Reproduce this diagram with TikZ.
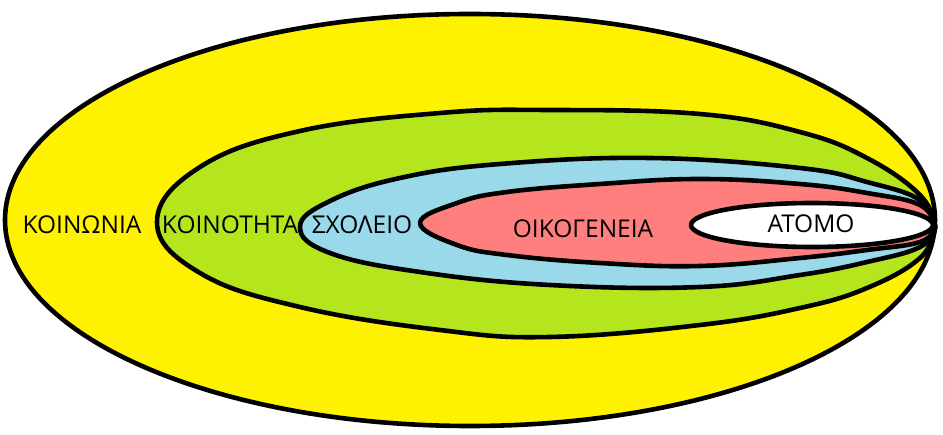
\documentclass[tikz,border=0pt]{standalone}
\usepackage{fontspec}
\setmainfont{Open Sans}
\definecolor{cYellow}{RGB}{255,242,0}
\definecolor{cGreen}{RGB}{181,230,29}
\definecolor{cBlue}{RGB}{153,217,234}
\definecolor{cRed}{RGB}{255,127,127}
\begin{document}
\begin{tikzpicture}[x=1pt,y=-1pt,
  zone/.style={draw=black,line width=4.6pt,line join=round},
  lbl/.style={anchor=base,inner sep=0pt,font=\fontsize{24.5}{28}\selectfont,text=black}]
\useasboundingbox (0,0) rectangle (943,435);
% outer
\draw[zone,fill=cYellow] (470,220) ellipse [x radius=465,y radius=206];
% community
\draw[zone,fill=cGreen] plot[smooth,tension=0.7] coordinates {
  (935,226) (920,195) (867,158) (800,132) (700,114) (550,110) (440,113) (300,131)
  (200,167) (157,222) (200,273) (300,307) (440,330) (550,337) (700,325) (800,308)
  (867,288) (920,258) (935,228)} -- cycle;
% school
\draw[zone,fill=cBlue] plot[smooth,tension=0.7] coordinates {
  (935,226) (920,200) (867,182) (800,168) (650,158) (500,164) (400,178) (330,201)
  (300,227) (330,253) (420,272) (550,285) (700,287) (800,275) (867,262) (920,247)
  (935,228)} -- cycle;
% family
\draw[zone,fill=cRed] plot[smooth,tension=0.7] coordinates {
  (935,226) (920,205) (867,193) (800,184) (700,179) (600,184) (507,192) (457,203)
  (420,223) (457,245) (507,255) (600,263) (700,266) (800,258) (867,250) (920,242)
  (935,228)} -- cycle;
% individual
\draw[zone,fill=white] (812,225) ellipse [x radius=121,y radius=22];
% labels
\node[lbl] (koinonia) at (82,234) {ΚΟΙΝΩΝΙΑ};
\node[lbl] (koinotita) at (230,234) {ΚΟΙΝΟΤΗΤΑ};
\node[lbl] (scholeio) at (362,234) {ΣΧΟΛΕΙΟ};
\node[lbl] (oikogeneia) at (583,238) {ΟΙΚΟΓΕΝΕΙΑ};
\node[lbl] (atomo) at (811,233) {ΑΤΟΜΟ};
\end{tikzpicture}
\end{document}
